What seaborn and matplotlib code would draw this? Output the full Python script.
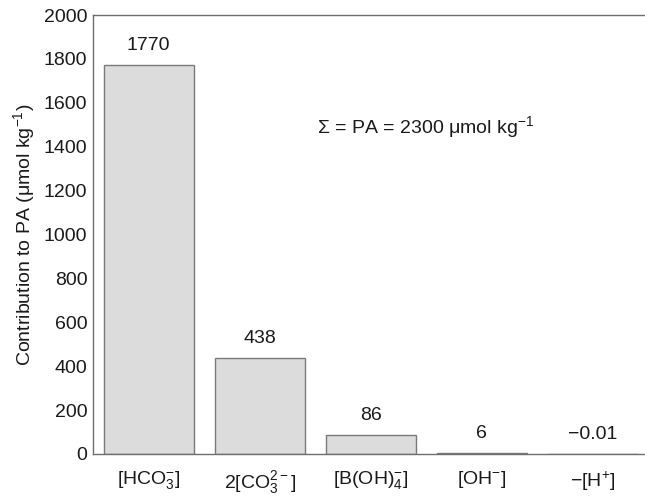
import matplotlib
matplotlib.use("Agg")
import matplotlib.pyplot as plt
import seaborn as sns
import pandas as pd

# Contributions of each species to practical alkalinity (µmol kg^-1)
species = [r"[HCO$_3^{-}$]", r"2[CO$_3^{2-}$]", r"[B(OH)$_4^{-}$]", r"[OH$^{-}$]", r"$-$[H$^{+}$]"]
contribution = [1770, 438, 86, 6, -0.01]
value_labels = ["1770", "438", "86", "6", "\u22120.01"]
y_ticks = [0, 200, 400, 600, 800, 1000, 1200, 1400, 1600, 1800, 2000]

sns.set_style("white")
plt.rcParams["font.family"] = ["Liberation Sans", "DejaVu Sans"]
plt.rcParams["mathtext.fontset"] = "custom"
plt.rcParams["mathtext.rm"] = "Liberation Sans"
plt.rcParams["mathtext.it"] = "Liberation Sans:italic"
plt.rcParams["mathtext.bf"] = "Liberation Sans:bold"
plt.rcParams["mathtext.default"] = "regular"

df = pd.DataFrame({"species": species, "contribution": contribution})

fig = plt.figure(figsize=(6.45, 4.99), dpi=100)
ax = fig.add_axes([93 / 645, 1 - 454 / 499, (648.5 - 93) / 645, (454 - 15) / 499])

sns.barplot(data=df, x="species", y="contribution", order=species,
            color="#dcdcdc", saturation=1, width=0.81,
            edgecolor="#7a7a7a", linewidth=1.0, ax=ax)

axis_grey = "#6e6e6e"
for side in ["left", "bottom", "top"]:
    ax.spines[side].set_color(axis_grey)
    ax.spines[side].set_linewidth(1.0)
ax.spines["right"].set_visible(False)

fs = 14
ax.set_xlim(-0.5, 4.5)
ax.set_ylim(0, 2000)
ax.set_yticks(y_ticks)
ax.tick_params(axis="y", direction="in", length=5, color=axis_grey,
               labelsize=fs, labelcolor="#1a1a1a", pad=4)
ax.tick_params(axis="x", length=0, labelsize=fs, labelcolor="#1a1a1a", pad=11)

ax.set_xlabel("")
ax.set_ylabel(r"Contribution to PA ($\mu$mol kg$^{-1}$)", fontsize=fs, color="#1a1a1a", labelpad=5)

for i, (v, lab) in enumerate(zip(contribution, value_labels)):
    ax.annotate(lab, xy=(i, max(v, 0)), xytext=(0, 8), textcoords="offset points",
                ha="center", va="bottom", fontsize=fs, color="#1a1a1a")

ax.text(1.52, 1490, r"$\Sigma$ = PA = 2300 $\mu$mol kg$^{-1}$",
        ha="left", va="center", fontsize=fs, color="#1a1a1a")

fig.savefig("out.png", dpi=100, facecolor="white")
